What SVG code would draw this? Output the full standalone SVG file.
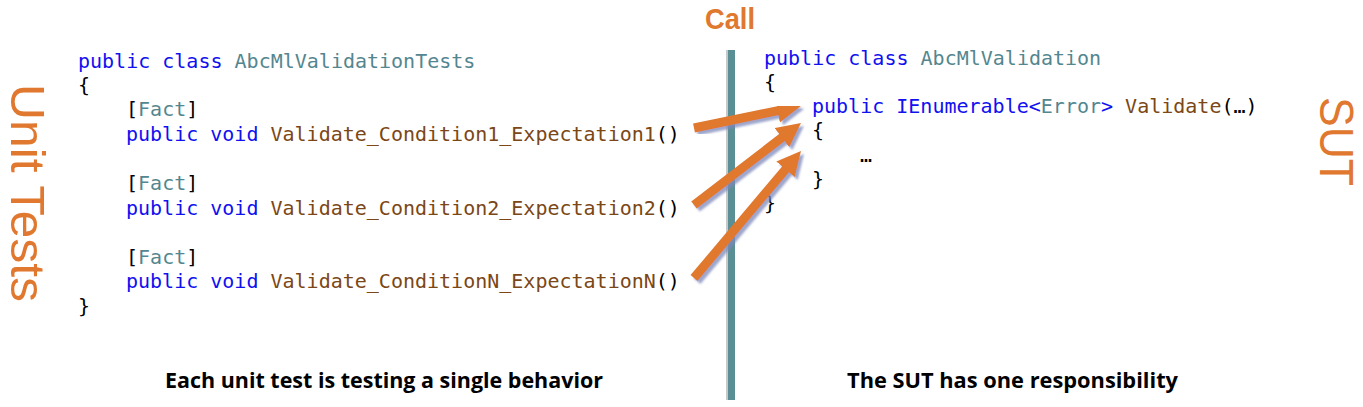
<svg xmlns="http://www.w3.org/2000/svg" width="1363" height="407" viewBox="0 0 1363 407">
<style>
.code{font-family:"DejaVu Sans Mono","Liberation Mono",monospace;font-size:20px;fill:#000;white-space:pre}
.kw{fill:#1010f0}
.ty{fill:#54868f}
.me{fill:#7b4716}
.big{font-family:"Liberation Sans",Arial,sans-serif;font-size:48px;fill:#e0782f}
.call{font-family:"Liberation Sans",Arial,sans-serif;font-weight:700;font-size:30px;fill:#e0782f}
.cap{font-family:"Open Sans","Liberation Sans",sans-serif;font-weight:700;font-size:21px;fill:#000}
.arrow{stroke:#e0782f;stroke-width:9;fill:none;marker-end:url(#head);filter:url(#sh)}
</style>
<defs>
<filter id="sh" x="-20%" y="-20%" width="150%" height="150%">
<feDropShadow dx="3" dy="3" stdDeviation="1.2" flood-color="#7d88bb" flood-opacity="0.75"/>
</filter>
<marker id="head" markerUnits="userSpaceOnUse" markerWidth="26" markerHeight="26" refX="2" refY="12" orient="auto">
<path d="M0,0 L24,12 L0,24 z" fill="#e0782f"/>
</marker>
</defs>

<g id="call-bar">
<rect x="726" y="50" width="2" height="350" fill="#c8c8c8"/>
<rect x="728" y="50" width="7" height="350" fill="#5a8f95"/>
<text class="call" x="705" y="29" textLength="50" lengthAdjust="spacingAndGlyphs">Call</text>
</g>

<g id="unit-tests-label">
<text class="big" transform="translate(10.5,84) rotate(90)" textLength="218" lengthAdjust="spacingAndGlyphs">Unit Tests</text>
</g>

<g id="sut-label">
<text class="big" transform="translate(1319.5,97) rotate(90)" textLength="89" lengthAdjust="spacingAndGlyphs">SUT</text>
</g>

<g id="test-class">
<text class="code" x="78" y="68"><tspan class="kw">public class </tspan><tspan class="ty">AbcMlValidationTests</tspan></text>
<text class="code" x="78" y="92">{</text>
<text class="code" x="126" y="116">[<tspan class="ty">Fact</tspan>]</text>
<text class="code" x="126" y="141"><tspan class="kw">public void </tspan><tspan class="me">Validate_Condition1_Expectation1</tspan>()</text>
<text class="code" x="126" y="190">[<tspan class="ty">Fact</tspan>]</text>
<text class="code" x="126" y="215"><tspan class="kw">public void </tspan><tspan class="me">Validate_Condition2_Expectation2</tspan>()</text>
<text class="code" x="126" y="264">[<tspan class="ty">Fact</tspan>]</text>
<text class="code" x="126" y="288"><tspan class="kw">public void </tspan><tspan class="me">Validate_ConditionN_ExpectationN</tspan>()</text>
<text class="code" x="78" y="313">}</text>
</g>

<g id="sut-class">
<text class="code" x="764" y="65"><tspan class="kw">public class </tspan><tspan class="ty">AbcMlValidation</tspan></text>
<text class="code" x="764" y="89">{</text>
<text class="code" x="812" y="113"><tspan class="kw">public IEnumerable</tspan><tspan class="kw">&lt;</tspan><tspan class="ty">Error</tspan><tspan class="kw">&gt; </tspan><tspan class="me">Validate</tspan>(…)</text>
<text class="code" x="812" y="137">{</text>
<text class="code" x="860" y="162">…</text>
<text class="code" x="812" y="186">}</text>
<text class="code" x="764" y="210">}</text>
</g>

<g id="connectors">
<line class="arrow" x1="694" y1="128" x2="779.4" y2="110.4"/>
<line class="arrow" x1="694" y1="205" x2="783.5" y2="136.4"/>
<line class="arrow" x1="694" y1="278" x2="786.8" y2="167.8"/>
</g>

<g id="captions">
<text class="cap" x="165" y="388" textLength="438" lengthAdjust="spacingAndGlyphs">Each unit test is testing a single behavior</text>
<text class="cap" x="847" y="388" textLength="331" lengthAdjust="spacingAndGlyphs">The SUT has one responsibility</text>
</g>
</svg>
